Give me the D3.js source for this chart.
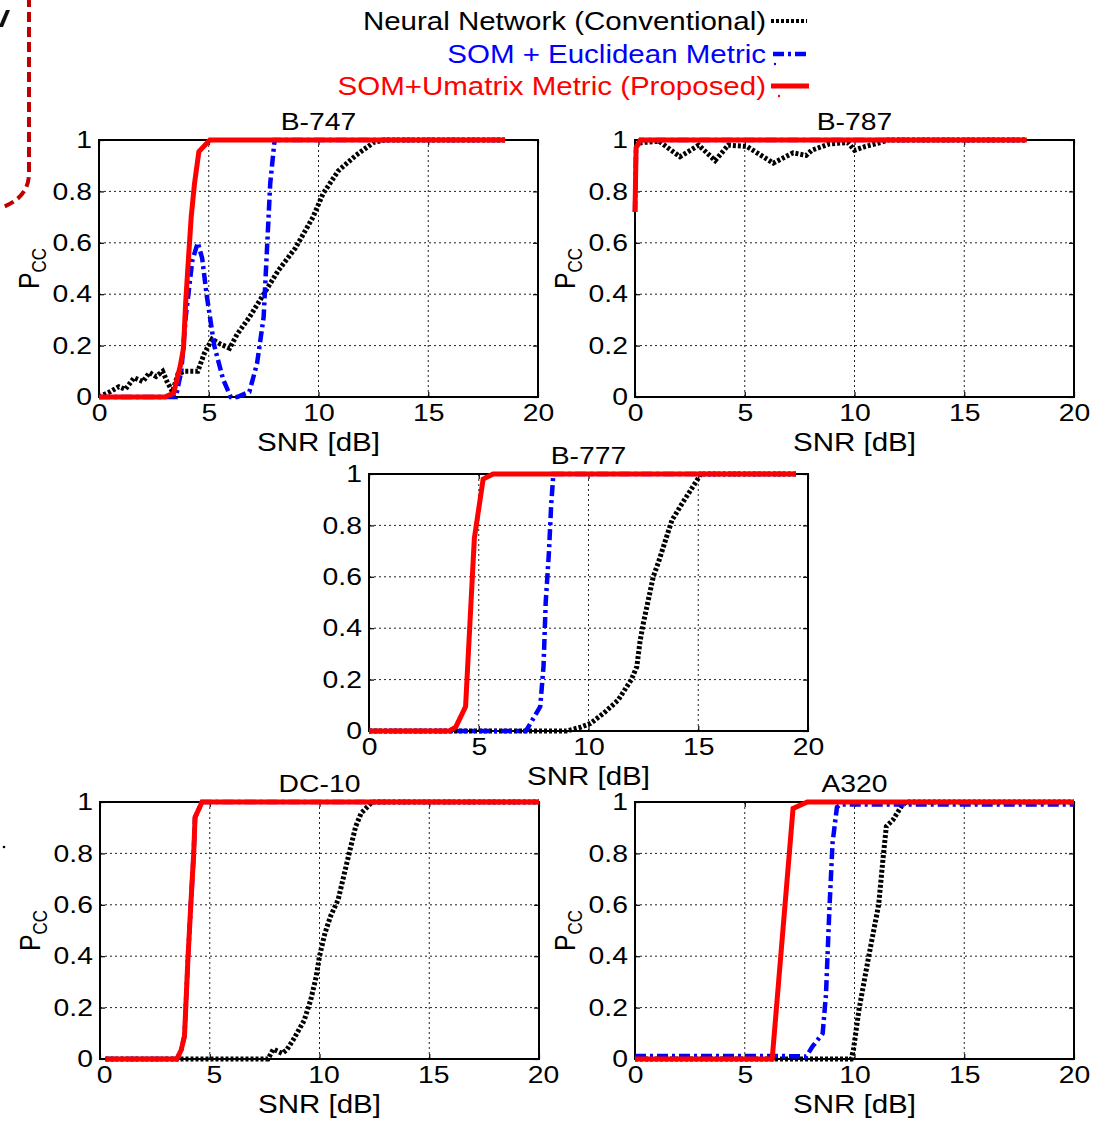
<!DOCTYPE html>
<html>
<head>
<meta charset="utf-8">
<script src="https://cdn.jsdelivr.net/npm/d3@7"></script>
<style>
  body { margin: 0; background: #fff; }
  svg { display: block; }
</style>
</head>
<body>
<svg id="chart" width="1108" height="1123"></svg>
<script>
// ---- data ----
var snrTicks = [0, 5, 10, 15, 20];
var pccTicks = [0, 0.2, 0.4, 0.6, 0.8, 1];
var legendLabels = ['Neural Network (Conventional)', 'SOM + Euclidean Metric', 'SOM+Umatrix Metric (Proposed)'];
var panelTitles = ['B-747', 'B-787', 'B-777', 'DC-10', 'A320'];

// [SNR dB, Pcc]
var b747Nn = [[0,0],[0.5,0.02],[0.9,0.04],[1.2,0.03],[1.6,0.075],[2.0,0.06],[2.3,0.095],[2.6,0.08],[2.9,0.1],[3.1,0.06],[3.35,0.02],[3.6,0.09],[3.9,0.1],[4.5,0.1],[4.8,0.17],[5.15,0.225],[5.55,0.205],[5.95,0.19],[6.3,0.245],[6.85,0.31],[7.5,0.4],[8.15,0.49],[8.95,0.58],[9.75,0.7],[10.2,0.79],[10.9,0.88],[11.7,0.94],[12.5,0.99],[13,1],[18.5,1]];
var b747Som = [[0,0],[3.5,0],[3.75,0.1],[3.95,0.31],[4.25,0.53],[4.5,0.6],[4.7,0.54],[4.9,0.4],[5.25,0.2],[5.65,0.07],[6.0,0],[6.3,0],[6.85,0.02],[7.2,0.13],[7.5,0.31],[7.65,0.57],[7.8,0.83],[8.0,1],[18.5,1]];
var b747Prop = [[0,0],[3.0,0],[3.4,0.015],[3.7,0.12],[3.85,0.19],[3.95,0.37],[4.1,0.57],[4.2,0.7],[4.35,0.83],[4.55,0.955],[5.05,1],[18.5,1]];

var b787Nn = [[0,0.98],[0.3,0.99],[1.1,0.995],[2.05,0.935],[2.9,0.98],[3.65,0.92],[4.25,0.98],[5.1,0.975],[6.3,0.91],[7.2,0.95],[7.8,0.94],[8.05,0.96],[8.85,0.985],[9.7,0.99],[10.0,0.96],[10.5,0.975],[11.2,0.99],[11.5,1],[17.85,1]];
var b787Som = [[0,0.72],[0.05,0.97],[0.25,1],[17.85,1]];
var b787Prop = [[0,0.72],[0.05,0.97],[0.25,1],[17.85,1]];

var b777Nn = [[0,0],[9.0,0],[9.65,0.015],[10.1,0.03],[10.7,0.07],[11.35,0.12],[11.95,0.2],[12.2,0.25],[12.35,0.35],[12.5,0.42],[12.75,0.52],[12.95,0.6],[13.2,0.66],[13.5,0.74],[13.8,0.82],[14.3,0.89],[14.75,0.95],[15.05,0.99],[15.1,1],[19.45,1]];
var b777Som = [[0,0],[7.15,0],[7.8,0.095],[7.95,0.25],[8.05,0.5],[8.2,0.7],[8.3,0.88],[8.4,1],[19.45,1]];
var b777Prop = [[0,0],[3.65,0],[3.95,0.015],[4.4,0.095],[4.8,0.75],[5.2,0.98],[5.65,1],[19.45,1]];

var dc10Nn = [[0.25,0],[7.65,0],[7.9,0.038],[8.3,0.022],[8.5,0.035],[8.8,0.074],[9.3,0.15],[9.6,0.23],[9.85,0.32],[10.0,0.4],[10.25,0.49],[10.5,0.555],[10.85,0.62],[11.1,0.71],[11.35,0.8],[11.65,0.905],[11.9,0.957],[12.4,1],[20,1]];
var dc10Som = [[0.25,0],[3.5,0],[3.7,0.035],[3.85,0.09],[4.0,0.38],[4.15,0.62],[4.27,0.8],[4.33,0.94],[4.65,1],[20,1]];
var dc10Prop = [[0.25,0],[3.5,0],[3.7,0.035],[3.85,0.09],[4.0,0.38],[4.15,0.62],[4.27,0.8],[4.33,0.94],[4.65,1],[20,1]];

var a320Nn = [[0,0],[9.85,0],[9.95,0.035],[10.2,0.19],[10.65,0.4],[11.1,0.6],[11.3,0.78],[11.45,0.905],[11.75,0.93],[12.15,0.985],[12.35,1],[20,1]];
var a320Som = [[0,0.012],[6.2,0.012],[7.8,0.01],[8.1,0.05],[8.55,0.1],[8.7,0.25],[8.85,0.57],[9.0,0.84],[9.2,0.98],[9.35,0.99],[20,0.99]];
var a320Prop = [[0,0],[6.25,0],[7.2,0.975],[7.85,1],[20,1]];

var panelSeries = [
    [b747Nn, b747Som, b747Prop],
    [b787Nn, b787Som, b787Prop],
    [b777Nn, b777Som, b777Prop],
    [dc10Nn, dc10Som, dc10Prop],
    [a320Nn, a320Som, a320Prop]
];

// ---- layout / style ----
var FONT = '"Liberation Sans", Arial, Helvetica, sans-serif';
var STRETCH = 1.18; // the source image is a bit wider than tall
var PW = 439, PH = 257;
var panelLayout = [
    {left: 99,  top: 140, yLabel: true},
    {left: 635, top: 140, yLabel: true},
    {left: 369, top: 474, yLabel: false},
    {left: 100, top: 802, yLabel: true, labelShift: 4},
    {left: 635, top: 802, yLabel: true}
];
var seriesStyles = [
    {color: '#000', width: 5, dash: '3,2'},
    {color: '#0000ff', width: 4.5, dash: '11,4,3,4'},
    {color: '#ff0000', width: 5, dash: null}
];

var svg = d3.select('#chart').attr('font-family', FONT);

function stretch(x, y, extra) {
    return 'translate(' + x + ',' + y + ') scale(' + STRETCH + ',1)' + (extra || '');
}

// stray bits of the neighbouring figure in the original scan
svg.append('path')
    .attr('d', 'M29,-3 V173 Q29,197 3,207')
    .attr('fill', 'none')
    .attr('stroke', '#c00000')
    .attr('stroke-width', 4)
    .attr('stroke-dasharray', '10,5');
svg.append('path')   // edge of a cut-off italic glyph
    .attr('d', 'M6,10 L10,10 L3,27 L0,27 L0,24 Z')
    .attr('fill', '#111');
svg.append('circle').attr('cx', 4).attr('cy', 847).attr('r', 1.3).attr('fill', '#000');

// ---- legend ----
var legendRows = [21, 54, 86];
var legendSpans = [[771, 807], [773, 808], [771, 809]];
var legend = svg.append('g');
legendLabels.forEach(function(label, i) {
    var st = seriesStyles[i];
    legend.append('text')
        .attr('transform', stretch(766, legendRows[i] + 9))
        .attr('text-anchor', 'end')
        .attr('font-size', 25)
        .attr('fill', st.color)
        .text(label);
    legend.append('line')
        .attr('x1', legendSpans[i][0]).attr('x2', legendSpans[i][1])
        .attr('y1', legendRows[i]).attr('y2', legendRows[i])
        .attr('stroke', st.color)
        .attr('stroke-width', i == 0 ? 4 : st.width)
        .attr('stroke-dasharray', st.dash);
    if (i > 0) {
        legend.append('circle')
            .attr('cx', i == 1 ? 775 : 779).attr('cy', legendRows[i] + 10)
            .attr('r', 1.2).attr('fill', st.color);
    }
});

// ---- panels ----
panelTitles.forEach(function(title, i) {
    var pos = panelLayout[i];
    var x = d3.scaleLinear().domain([0, 20]).range([0, PW]);
    var y = d3.scaleLinear().domain([0, 1]).range([PH, 0]);
    var g = svg.append('g').attr('transform', 'translate(' + pos.left + ',' + pos.top + ')');

    // dotted grid
    g.selectAll('.gx').data(snrTicks.slice(1, -1)).enter().append('line')
        .attr('class', 'gx')
        .attr('x1', x).attr('x2', x)
        .attr('y1', 0).attr('y2', PH);
    g.selectAll('.gy').data(pccTicks.slice(1, -1)).enter().append('line')
        .attr('class', 'gy')
        .attr('y1', y).attr('y2', y)
        .attr('x1', 0).attr('x2', PW);
    g.selectAll('.gx, .gy')
        .attr('stroke', '#222')
        .attr('stroke-width', 1)
        .attr('stroke-dasharray', '2,3');

    // axes, ticks inward like matlab
    var xb = g.append('g').attr('transform', 'translate(0,' + PH + ')')
        .call(d3.axisBottom(x).tickValues(snrTicks).tickSizeInner(-5).tickSizeOuter(0)
            .tickPadding(7).tickFormat(String));
    var yl = g.append('g')
        .call(d3.axisLeft(y).tickValues(pccTicks).tickSizeInner(-5).tickSizeOuter(0)
            .tickPadding(6).tickFormat(String));
    var xt = g.append('g')
        .call(d3.axisTop(x).tickValues(snrTicks).tickSizeInner(-5).tickSizeOuter(0).tickFormat(''));
    var yr = g.append('g').attr('transform', 'translate(' + PW + ',0)')
        .call(d3.axisRight(y).tickValues(pccTicks).tickSizeInner(-5).tickSizeOuter(0).tickFormat(''));
    [xb, yl, xt, yr].forEach(function(a) {
        a.select('.domain').remove();
        a.attr('font-family', FONT).attr('font-size', 24);
        a.selectAll('line').attr('stroke', '#000').attr('stroke-width', 1.2);
    });
    xb.selectAll('text').attr('fill', '#000')
        .attr('transform', 'translate(' + (pos.labelShift || 0) + ',0) scale(' + STRETCH + ',1)');
    yl.selectAll('text').attr('fill', '#000')
        .attr('transform', 'scale(' + STRETCH + ',1)');

    // box
    g.append('rect')
        .attr('width', PW).attr('height', PH)
        .attr('fill', 'none')
        .attr('stroke', '#000')
        .attr('stroke-width', 2);

    // curves
    var line = d3.line()
        .x(function(d) { return x(d[0]); })
        .y(function(d) { return y(d[1]); });
    panelSeries[i].forEach(function(data, s) {
        var st = seriesStyles[s];
        g.append('path')
            .datum(data)
            .attr('d', line)
            .attr('fill', 'none')
            .attr('stroke', st.color)
            .attr('stroke-width', st.width)
            .attr('stroke-dasharray', st.dash)
            .attr('stroke-linejoin', 'miter');
    });

    // labels
    g.append('text')
        .attr('transform', stretch(PW / 2, -10))
        .attr('text-anchor', 'middle')
        .attr('font-size', 24)
        .text(title);
    g.append('text')
        .attr('transform', stretch(PW / 2, PH + 54))
        .attr('text-anchor', 'middle')
        .attr('font-size', 25)
        .text('SNR [dB]');
    if (pos.yLabel) {
        var yt = g.append('text')
            .attr('transform', stretch(-60, PH / 2, ' rotate(-90)'))
            .attr('text-anchor', 'middle')
            .attr('font-size', 25);
        yt.append('tspan').text('P');
        yt.append('tspan').attr('dy', 6).attr('font-size', 17).text('CC');
    }
});
</script>
</body>
</html>
